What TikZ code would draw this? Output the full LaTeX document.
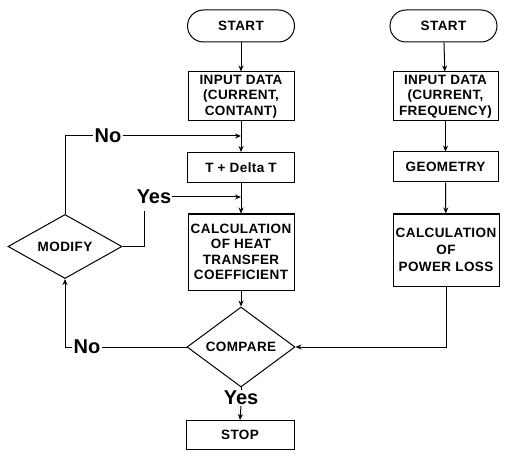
\documentclass[tikz,border=0pt]{standalone}
\usepackage{fontspec}
\setmainfont{Liberation Sans}
\newfontfamily\boxfont[LetterSpace=3]{Liberation Sans}
\usetikzlibrary{shapes.geometric,arrows.meta}
\begin{document}
\begin{tikzpicture}[x=1pt,y=-1pt,
  every node/.style={font=\boxfont\bfseries\fontsize{13.5}{15.5}\selectfont},
  box/.style={draw,line width=1pt,rectangle,align=center,inner sep=0pt},
  term/.style={box,rounded corners=16pt},
  dia/.style={draw,line width=1pt,diamond,inner sep=0pt,align=center},
  lbl/.style={font=\rmfamily\bfseries\fontsize{20}{22}\selectfont,inner sep=1pt},
  ln/.style={line width=1pt},
  arr/.style={ln,-{Stealth[length=6pt,width=5pt]}}]
\useasboundingbox (0,0) rectangle (507,452);
% left column
\node[term,minimum width=107pt,minimum height=32pt] (s1) at (241,26) {START};
\node[box,minimum width=106pt,minimum height=49pt] (in1) at (241,96.5) {INPUT DATA\\(CURRENT,\\CONTANT)};
\node[box,minimum width=107pt,minimum height=30pt] (t) at (241,167.5) {T + Delta T};
\node[box,minimum width=106pt,minimum height=76pt] (c1) at (241,252) {CALCULATION\\OF HEAT\\TRANSFER\\COEFFICIENT};
\node[dia,minimum width=108pt,minimum height=58pt] (cmp) at (241,347) {COMPARE};
\node[box,minimum width=108pt,minimum height=29pt] (stop) at (240,435) {STOP};
% right column
\node[term,minimum width=107pt,minimum height=32pt] (s2) at (443.5,26) {START};
\node[box,minimum width=105pt,minimum height=49pt] (in2) at (445.5,96.5) {INPUT DATA\\(CURRENT,\\FREQUENCY)};
\node[box,minimum width=105pt,minimum height=30pt] (geo) at (445.5,167) {GEOMETRY};
\node[box,minimum width=106pt,minimum height=72pt,font=\boxfont\bfseries\fontsize{13.5}{17}\selectfont] (c2) at (446,250) {CALCULATION\\OF\\POWER LOSS};
% modify
\node[dia,minimum width=114pt,minimum height=57pt] (mod) at (65,246.5) {MODIFY};
% labels
\node[lbl] (no1) at (108,136) {No};
\node[lbl] (yes1) at (154,197) {Yes};
\node[lbl] (no2) at (87,347) {No};
\node[lbl] (yes2) at (241,398) {Yes};
\coordinate (j1) at (241,136);
\coordinate (j2) at (241,197);
\coordinate (yb) at (144,211);
% connectors
\draw[arr] (s1) -- (in1);
\draw[arr] (in1) -- (t);
\draw[arr] (t) -- (c1);
\draw[arr] (c1) -- (cmp);
\draw[ln] (cmp.south) -- (yes2.north);
\draw[arr] (yes2.south) -- (stop.north);
\draw[arr] (s2) -- (in2);
\draw[arr] (in2) -- (geo);
\draw[arr] (geo) -- (c2);
\draw[arr] (c2.south) |- (cmp.east);
\draw[ln] (cmp.west) -- (no2.east);
\draw[arr] (no2.west) -| (mod.south);
\draw[ln] (mod.north) |- (no1.west);
\draw[arr] (no1.east) -- (j1);
\draw[ln] (mod.east) -| (yb);
\draw[arr] (yes1.east) -- (j2);
\end{tikzpicture}
\end{document}
